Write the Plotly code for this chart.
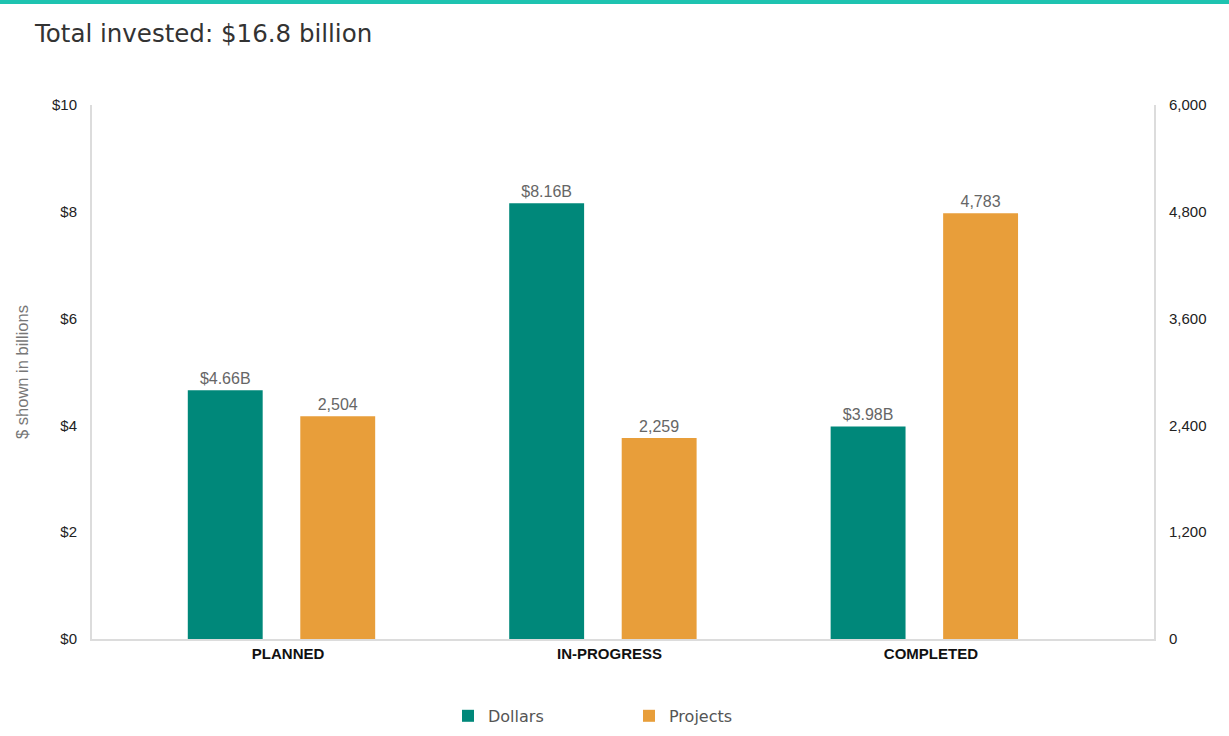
import plotly.graph_objects as go

categories = ["PLANNED", "IN-PROGRESS", "COMPLETED"]
dollars_billions = [4.66, 8.16, 3.98]
projects_count = [2504, 2259, 4783]
left_ticks = [0, 2, 4, 6, 8, 10]
left_tick_labels = ["$0", "$2", "$4", "$6", "$8", "$10"]
right_ticks = [0, 1200, 2400, 3600, 4800, 6000]
right_tick_labels = ["0", "1,200", "2,400", "3,600", "4,800", "6,000"]
title_text = "Total invested: $16.8 billion"
y_title = "$ shown in billions"

TEAL = "#00887a"
ORANGE = "#e89e3a"
AXIS = "#dcdcdc"

W, H = 1229, 736
ml, mr, mt, mb = 92, 75, 105, 97
pw = W - ml - mr
ph = H - mt - mb

xpos = list(range(len(categories)))

fig = go.Figure()
fig.add_trace(go.Bar(
    x=xpos, y=dollars_billions, name="Dollars",
    marker=dict(color=TEAL, line=dict(width=0)),
    width=0.233, offset=-0.312,
    texttemplate="$%{y:.2f}B", textposition="outside",
    textfont=dict(family="Liberation Sans", size=16, color="#666666"),
    cliponaxis=False, yaxis="y",
))
fig.add_trace(go.Bar(
    x=xpos, y=projects_count, name="Projects",
    marker=dict(color=ORANGE, line=dict(width=0)),
    width=0.233, offset=0.038,
    texttemplate="%{y:,}", textposition="outside",
    textfont=dict(family="Liberation Sans", size=16, color="#666666"),
    cliponaxis=False, yaxis="y2",
))

fig.update_layout(
    width=W, height=H,
    margin=dict(l=ml, r=mr, t=mt, b=mb, autoexpand=False),
    paper_bgcolor="white", plot_bgcolor="white",
    barmode="overlay",
    title=dict(text=title_text, x=35 / W, xanchor="left", xref="container",
               y=1 - 33 / H, yanchor="middle", yref="container",
               font=dict(family="DejaVu Sans", size=24.5, color="#333333")),
    xaxis=dict(range=[-0.610, 2.694], tickvals=xpos, ticktext=categories,
               showgrid=False, zeroline=False, showline=True, linecolor=AXIS,
               linewidth=2, ticks="", fixedrange=True,
               tickfont=dict(family="Liberation Sans", size=15, color="#111111", weight="bold")),
    yaxis=dict(range=[0, 10], tickvals=left_ticks, ticktext=left_tick_labels,
               showgrid=False, zeroline=False, showline=True, linecolor=AXIS,
               linewidth=2, ticks="", ticklabelstandoff=10,
               title=dict(text=y_title, standoff=19,
                          font=dict(family="Liberation Sans", size=16.5, color="#777777")),
               tickfont=dict(family="Liberation Sans", size=15, color="#222222")),
    yaxis2=dict(range=[0, 6000], tickvals=right_ticks, ticktext=right_tick_labels,
                overlaying="y", side="right", showgrid=False, zeroline=False,
                showline=True, linecolor=AXIS, linewidth=2, ticks="", ticklabelstandoff=10,
                tickfont=dict(family="Liberation Sans", size=15, color="#222222")),
    legend=dict(orientation="h", x=(448 - ml) / pw, xanchor="left", y=-0.144, yanchor="middle",
                font=dict(family="DejaVu Sans", size=16, color="#555555"),
                entrywidth=136, entrywidthmode="pixels"),
    shapes=[dict(type="rect", xref="paper", yref="paper",
                 x0=-ml / pw - 0.01, x1=1 + mr / pw + 0.01,
                 y0=(H - 4 - mb) / ph, y1=(H - mb) / ph + 0.01,
                 fillcolor="#1ec3b0", line=dict(width=0), layer="above")],
)

fig.write_html("out.html", config={"displayModeBar": False},
               post_script="document.body.style.margin='0';")
